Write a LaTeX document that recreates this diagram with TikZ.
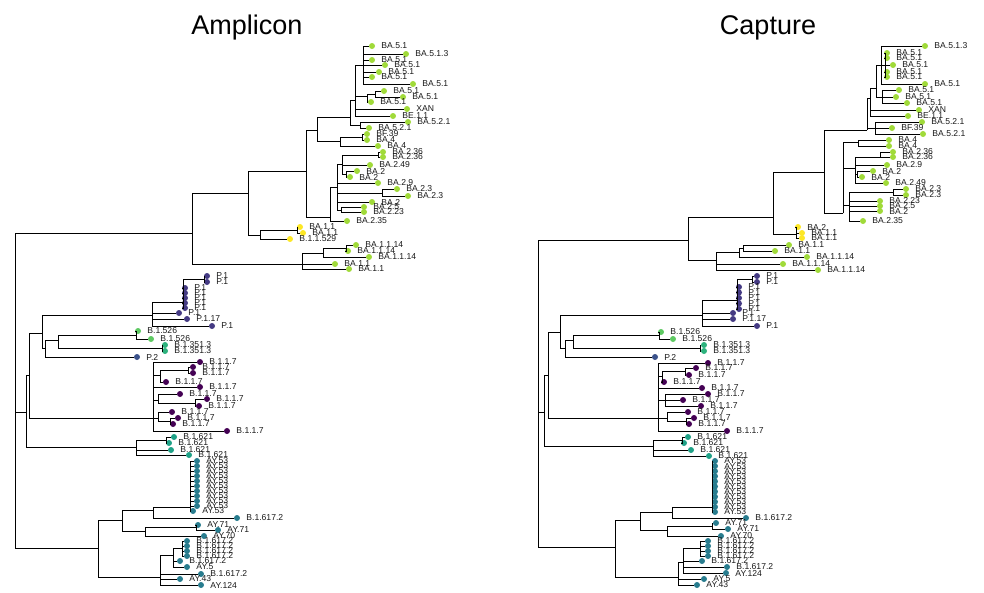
\documentclass[tikz,border=0pt]{standalone}
\usepackage{fontspec}
\setmainfont{Liberation Sans}
\usepackage{tikz}
\usetikzlibrary{positioning}
\definecolor{omicron}{HTML}{A0DA39}
\definecolor{baone}{HTML}{FDE725}
\definecolor{alphac}{HTML}{440154}
\definecolor{gammac}{HTML}{443A83}
\definecolor{zetac}{HTML}{3B528B}
\definecolor{deltac}{HTML}{287C8E}
\definecolor{muc}{HTML}{1FA187}
\definecolor{betac}{HTML}{2DB27D}
\definecolor{iotac}{HTML}{5EC962}
\tikzset{
  branch/.style={line width=0.7pt,black},
  leafdot/.style={circle,inner sep=0pt,minimum size=6pt},
  leaflab/.style={inner sep=0pt,label distance=6pt,font=\fontsize{8.6}{8.6}\selectfont,text=black!90},
  paneltitle/.style={font=\fontsize{27}{27}\selectfont}
}
\newcommand{\leaf}[5]{%
  \node[leafdot,fill=#4,label={[leaflab]right:#5}] (#1) at (#2,{#3}) {};
}
\newcommand{\hang}[2]{%
  \foreach \k in {#2} {\draw[branch] (#1) |- (\k);}
}

\begin{document}
\begin{tikzpicture}[x=1pt,y=-1pt]
  \useasboundingbox (0,0) rectangle (984,592);
  \node[paneltitle] (tamp) at (247,28) {Amplicon};
  \node[paneltitle] (tcap) at (768,28) {Capture};

  % Amplicon
  \coordinate (aR) at (15,390);   \coordinate (aA) at (192,233);
  \coordinate (aB) at (248,193);  \coordinate (aC) at (306,171);
  \coordinate (aE) at (317,130);  \coordinate (aG) at (350,117);
  \coordinate (aG1) at (355,100); \coordinate (aG3) at (363,65);
  \coordinate (aG4) at (367,96);  \coordinate (aG5) at (375,94);
  \coordinate (aG2) at (360,125); \coordinate (aH) at (340,141);
  \coordinate (aH2) at (362,137); \coordinate (aF) at (330,217);
  \coordinate (aFb) at (337,187); \coordinate (aF1) at (342,164);
  \coordinate (aF1a) at (378,155);\coordinate (aF1b) at (346,174);
  \coordinate (aF2) at (382,193); \coordinate (aF3) at (341,210);
  \coordinate (aY) at (260,235);  \coordinate (aY2) at (297,230);
  \coordinate (aL) at (302,264);  \coordinate (aL2) at (323,253);
  \coordinate (aL3) at (346,248);
  \coordinate (aN1) at (26,412);  \coordinate (aN2) at (29,375);
  \coordinate (aN3) at (42,333);  \coordinate (aN4) at (45,348);
  \coordinate (aN5) at (58,340);  \coordinate (aI) at (136,335);
  \coordinate (aBt) at (162,348); \coordinate (aPa) at (152,315);
  \coordinate (aPb) at (183,302); \coordinate (aPc) at (204,279);
  \coordinate (aS) at (153,418);  \coordinate (aS1) at (160,375);
  \coordinate (aS1a) at (188,370);\coordinate (aS2) at (158,400);
  \coordinate (aS2a) at (195,403);\coordinate (aS3) at (158,418);
  \coordinate (aS3a) at (170,421);\coordinate (aM) at (136,447);
  \coordinate (aM1) at (166,440); \coordinate (aD) at (98,548);
  \coordinate (aD1) at (122,520); \coordinate (aAYa) at (153,510);
  \coordinate (aAY) at (190,507); \coordinate (aAYb) at (145,531);
  \coordinate (aAYc) at (196,527);\coordinate (aD2) at (160,577);
  \coordinate (aD3) at (173,555); \coordinate (aD4) at (182,548);

  \leaf{a1}{372}{46}{omicron}{BA.5.1}
  \leaf{a2}{406}{54}{omicron}{BA.5.1.3}
  \leaf{a3}{372}{60}{omicron}{BA.5.1}
  \leaf{a4}{385}{65}{omicron}{BA.5.1}
  \leaf{a5}{379}{72}{omicron}{BA.5.1}
  \leaf{a6}{372}{77}{omicron}{BA.5.1}
  \leaf{a7}{413}{84}{omicron}{BA.5.1}
  \leaf{a8}{384}{91}{omicron}{BA.5.1}
  \leaf{a9}{403}{97}{omicron}{BA.5.1}
  \leaf{a10}{371}{102}{omicron}{BA.5.1}
  \leaf{a11}{407}{109}{omicron}{XAN}
  \leaf{a12}{393}{116}{omicron}{BE.1.1}
  \leaf{a13}{408}{122}{omicron}{BA.5.2.1}
  \leaf{a14}{369}{128}{omicron}{BA.5.2.1}
  \leaf{a15}{367}{134}{omicron}{BF.39}
  \leaf{a16}{367}{140}{omicron}{BA.4}
  \leaf{a17}{378}{146}{omicron}{BA.4}
  \leaf{a18}{383}{152}{omicron}{BA.2.36}
  \leaf{a19}{383}{157}{omicron}{BA.2.36}
  \leaf{a20}{370}{165}{omicron}{BA.2.49}
  \leaf{a21}{357}{171}{omicron}{BA.2}
  \leaf{a22}{350}{177}{omicron}{BA.2}
  \leaf{a23}{378}{183}{omicron}{BA.2.9}
  \leaf{a24}{397}{189}{omicron}{BA.2.3}
  \leaf{a25}{408}{196}{omicron}{BA.2.3}
  \leaf{a26}{372}{202}{omicron}{BA.2}
  \leaf{a27}{364}{207}{omicron}{BA.2.5}
  \leaf{a28}{364}{212}{omicron}{BA.2.23}
  \leaf{a29}{347}{221}{omicron}{BA.2.35}
  \leaf{a30}{300}{227}{baone}{BA.1.1}
  \leaf{a31}{303}{233}{baone}{BA.1.1}
  \leaf{a32}{290}{239}{baone}{B.1.1.529}
  \leaf{a33}{356}{245}{omicron}{BA.1.1.14}
  \leaf{a34}{348}{251}{omicron}{BA.1.1.14}
  \leaf{a35}{369}{257}{omicron}{BA.1.1.14}
  \leaf{a36}{335}{264}{omicron}{BA.1.1}
  \leaf{a37}{349}{269}{omicron}{BA.1.1}

  \leaf{ap1}{207}{276}{gammac}{P.1}
  \leaf{ap2}{207}{282}{gammac}{P.1}
  \foreach \i in {0,...,4} {\leaf{app\i}{185}{288+5*\i}{gammac}{P.1}}
  \leaf{ap3}{179}{313}{gammac}{P.1}
  \leaf{ap4}{187}{319}{gammac}{P.1.17}
  \leaf{ap5}{212}{326}{gammac}{P.1}
  \leaf{ai1}{138}{331}{iotac}{B.1.526}
  \leaf{ai2}{151}{339}{iotac}{B.1.526}
  \leaf{ab1}{165}{345}{betac}{B.1.351.3}
  \leaf{ab2}{165}{351}{betac}{B.1.351.3}
  \leaf{az}{137}{357}{zetac}{P.2}
  \leaf{aal1}{200}{362}{alphac}{B.1.1.7}
  \leaf{aal2}{193}{367}{alphac}{B.1.1.7}
  \leaf{aal3}{193}{373}{alphac}{B.1.1.7}
  \leaf{aal4}{166}{382}{alphac}{B.1.1.7}
  \leaf{aal5}{200}{387}{alphac}{B.1.1.7}
  \leaf{aal6}{180}{394}{alphac}{B.1.1.7}
  \leaf{aal7}{207}{399}{alphac}{B.1.1.7}
  \leaf{aal8}{199}{406}{alphac}{B.1.1.7}
  \leaf{aal9}{172}{412}{alphac}{B.1.1.7}
  \leaf{aal10}{178}{418}{alphac}{B.1.1.7}
  \leaf{aal11}{173}{424}{alphac}{B.1.1.7}
  \leaf{aal12}{227}{431}{alphac}{B.1.1.7}
  \leaf{am1}{174}{437}{muc}{B.1.621}
  \leaf{am2}{169}{443}{muc}{B.1.621}
  \leaf{am3}{171}{450}{muc}{B.1.621}
  \leaf{am4}{189}{455}{muc}{B.1.621}
  \foreach \i in {0,...,9} {\leaf{aay\i}{197}{461+5*\i}{deltac}{AY.53}}
  \leaf{aay10}{193}{511}{deltac}{AY.53}
  \leaf{ad1}{237}{518}{deltac}{B.1.617.2}
  \leaf{ad2}{198}{525}{deltac}{AY.71}
  \leaf{ad3}{218}{530}{deltac}{AY.71}
  \leaf{ad4}{204}{536}{deltac}{AY.70}
  \foreach \i in {0,...,3} {\leaf{adb\i}{187}{541+5*\i}{deltac}{B.1.617.2}}
  \leaf{ad5}{180}{561}{deltac}{B.1.617.2}
  \leaf{ad6}{187}{567}{deltac}{AY.5}
  \leaf{ad7}{201}{574}{deltac}{B.1.617.2}
  \leaf{ad8}{180}{579}{deltac}{AY.43}
  \leaf{ad9}{201}{585}{deltac}{AY.124}

  \hang{aR}{aA,aN1,aD}
  \hang{aA}{aB,aL}
  \hang{aB}{aC,aY}
  \hang{aC}{aE,aF}
  \hang{aE}{aG,aH}
  \hang{aG}{aG1,aG2}
  \hang{aG1}{aG3,aG4,a11,a12}
  \hang{aG3}{a1,a2,a3,a4,a5,a6,a7}
  \hang{aG4}{aG5,a10}
  \hang{aG5}{a8,a9}
  \hang{aG2}{a13,a14}
  \hang{aH}{aH2,a17}
  \hang{aH2}{a15,a16}
  \hang{aF}{aFb,a29}
  \hang{aFb}{aF1,a23,aF2,a26,aF3}
  \hang{aF1}{aF1a,a20,aF1b}
  \hang{aF1a}{a18,a19}
  \hang{aF1b}{a21,a22}
  \hang{aF2}{a24,a25}
  \hang{aF3}{a27,a28}
  \hang{aY}{aY2,a32}
  \hang{aY2}{a30,a31}
  \hang{aL}{aL2,a36,a37}
  \hang{aL2}{aL3,a35}
  \hang{aL3}{a33,a34}
  \hang{aN1}{aN2,aM}
  \hang{aN2}{aN3,aS}
  \hang{aN3}{aPa,aN4}
  \hang{aN4}{aN5,az}
  \hang{aN5}{aI,aBt}
  \hang{aI}{ai1,ai2}
  \hang{aBt}{ab1,ab2}
  \hang{aPa}{aPb,ap3,ap4,ap5}
  \hang{aPb}{aPc,app0,app1,app2,app3,app4}
  \hang{aPc}{ap1,ap2}
  \hang{aS}{aal1,aS1,aal5,aS2,aS3,aal12}
  \hang{aS1}{aS1a,aal4}
  \hang{aS1a}{aal2,aal3}
  \hang{aS2}{aal6,aS2a}
  \hang{aS2a}{aal7,aal8}
  \hang{aS3}{aal9,aS3a}
  \hang{aS3a}{aal10,aal11}
  \hang{aM}{aM1,am3,am4}
  \hang{aM1}{am1,am2}
  \hang{aD}{aD1,aD2}
  \hang{aD1}{aAYa,aAYb}
  \hang{aAYa}{aAY,ad1}
  \hang{aAY}{aay0,aay1,aay2,aay3,aay4,aay5,aay6,aay7,aay8,aay9,aay10}
  \hang{aAYb}{aAYc,ad4}
  \hang{aAYc}{ad2,ad3}
  \hang{aD2}{aD3,ad7,ad8,ad9}
  \hang{aD3}{aD4,ad5,ad6}
  \hang{aD4}{adb0,adb1,adb2,adb3}

  % Capture
  \coordinate (cR) at (538,390);  \coordinate (cO) at (688,240);
  \coordinate (cA) at (773,217);  \coordinate (cC) at (824,172);
  \coordinate (cE) at (867,130);  \coordinate (cG1) at (870,98);
  \coordinate (cG3) at (876,88);  \coordinate (cT) at (881,65);
  \coordinate (cT2) at (885,65);  \coordinate (cG4) at (882,97);
  \coordinate (cG2) at (875,128); \coordinate (cF) at (843,213);
  \coordinate (cFa) at (858,142); \coordinate (cFb) at (855,168);
  \coordinate (cFb1) at (880,157);\coordinate (cFb2) at (857,174);
  \coordinate (cFc) at (849,205); \coordinate (cFc1) at (893,192);
  \coordinate (cY) at (796,234);  \coordinate (cL) at (716,260);
  \coordinate (cL2) at (739,252); \coordinate (cL3) at (743,248);
  \coordinate (cN1) at (544,412); \coordinate (cN2) at (548,375);
  \coordinate (cN3) at (560,332); \coordinate (cN4) at (565,348);
  \coordinate (cN5) at (573,340); \coordinate (cI) at (659,335);
  \coordinate (cBt) at (700,348); \coordinate (cPa) at (702,315);
  \coordinate (cPb) at (737,300); \coordinate (cPc) at (752,279);
  \coordinate (cS) at (658,418);  \coordinate (cS1) at (662,376);
  \coordinate (cS1a) at (685,371);\coordinate (cS2) at (665,400);
  \coordinate (cS3) at (667,418); \coordinate (cS3a) at (686,421);
  \coordinate (cM) at (653,446);  \coordinate (cM1) at (682,440);
  \coordinate (cD) at (615,547);  \coordinate (cD1) at (640,520);
  \coordinate (cAYa) at (672,512);\coordinate (cAY) at (712,507);
  \coordinate (cAYb) at (667,530);\coordinate (cAYc) at (712,526);
  \coordinate (cD2) at (678,577); \coordinate (cD3) at (683,562);
  \coordinate (cD4) at (700,548);

  \leaf{c1}{925}{46}{omicron}{BA.5.1.3}
  \leaf{c2}{887}{53}{omicron}{BA.5.1}
  \leaf{c3}{887}{58}{omicron}{BA.5.1}
  \leaf{c4}{893}{65}{omicron}{BA.5.1}
  \leaf{c5}{887}{72}{omicron}{BA.5.1}
  \leaf{c6}{887}{77}{omicron}{BA.5.1}
  \leaf{c7}{925}{84}{omicron}{BA.5.1}
  \leaf{c8}{899}{90}{omicron}{BA.5.1}
  \leaf{c9}{896}{97}{omicron}{BA.5.1}
  \leaf{c10}{907}{103}{omicron}{BA.5.1}
  \leaf{c11}{919}{110}{omicron}{XAN}
  \leaf{c12}{908}{116}{omicron}{BE.1.1}
  \leaf{c13}{922}{122}{omicron}{BA.5.2.1}
  \leaf{c14}{892}{128}{omicron}{BF.39}
  \leaf{c15}{923}{134}{omicron}{BA.5.2.1}
  \leaf{c16}{889}{140}{omicron}{BA.4}
  \leaf{c17}{889}{146}{omicron}{BA.4}
  \leaf{c18}{893}{152}{omicron}{BA.2.36}
  \leaf{c19}{893}{157}{omicron}{BA.2.36}
  \leaf{c20}{887}{165}{omicron}{BA.2.9}
  \leaf{c21}{873}{171}{omicron}{BA.2}
  \leaf{c22}{862}{177}{omicron}{BA.2}
  \leaf{c23}{886}{183}{omicron}{BA.2.49}
  \leaf{c24}{906}{189}{omicron}{BA.2.3}
  \leaf{c25}{906}{195}{omicron}{BA.2.3}
  \leaf{c26}{880}{201}{omicron}{BA.2.23}
  \leaf{c27}{880}{206}{omicron}{BA.2.5}
  \leaf{c28}{880}{211}{omicron}{BA.2}
  \leaf{c29}{863}{221}{omicron}{BA.2.35}
  \leaf{c30}{798}{227}{baone}{BA.2}
  \leaf{c31}{802}{233}{baone}{BA.1.1}
  \leaf{c32}{802}{238}{baone}{BA.1.1}
  \leaf{c33}{789}{245}{omicron}{BA.1.1}
  \leaf{c34}{775}{251}{omicron}{BA.1.1}
  \leaf{c35}{807}{257}{omicron}{BA.1.1.14}
  \leaf{c36}{783}{264}{omicron}{BA.1.1.14}
  \leaf{c37}{818}{270}{omicron}{BA.1.1.14}

  \leaf{cp1}{757}{276}{gammac}{P.1}
  \leaf{cp2}{757}{282}{gammac}{P.1}
  \foreach \i in {0,...,4} {\leaf{cpp\i}{739}{287+5.5*\i}{gammac}{P.1}}
  \leaf{cp3}{733}{313}{gammac}{P.1}
  \leaf{cp4}{733}{319}{gammac}{P.1.17}
  \leaf{cp5}{757}{326}{gammac}{P.1}
  \leaf{ci1}{661}{332}{iotac}{B.1.526}
  \leaf{ci2}{673}{339}{iotac}{B.1.526}
  \leaf{cb1}{704}{345}{betac}{B.1.351.3}
  \leaf{cb2}{704}{351}{betac}{B.1.351.3}
  \leaf{cz}{655}{357}{zetac}{P.2}
  \leaf{cal1}{708}{363}{alphac}{B.1.1.7}
  \leaf{cal2}{696}{368}{alphac}{B.1.1.7}
  \leaf{cal3}{689}{375}{alphac}{B.1.1.7}
  \leaf{cal4}{664}{382}{alphac}{B.1.1.7}
  \leaf{cal5}{702}{388}{alphac}{B.1.1.7}
  \leaf{cal6}{708}{394}{alphac}{B.1.1.7}
  \leaf{cal7}{683}{400}{alphac}{B.1.1.7}
  \leaf{cal8}{701}{406}{alphac}{B.1.1.7}
  \leaf{cal9}{688}{412}{alphac}{B.1.1.7}
  \leaf{cal10}{694}{418}{alphac}{B.1.1.7}
  \leaf{cal11}{689}{424}{alphac}{B.1.1.7}
  \leaf{cal12}{727}{431}{alphac}{B.1.1.7}
  \leaf{cm1}{688}{437}{muc}{B.1.621}
  \leaf{cm2}{684}{443}{muc}{B.1.621}
  \leaf{cm3}{691}{450}{muc}{B.1.621}
  \leaf{cm4}{709}{456}{muc}{B.1.621}
  \foreach \i in {0,...,10} {\leaf{cay\i}{715}{461+5.1*\i}{deltac}{AY.53}}
  \leaf{cd1}{746}{518}{deltac}{B.1.617.2}
  \leaf{cd2}{716}{523}{deltac}{AY.71}
  \leaf{cd3}{728}{529}{deltac}{AY.71}
  \leaf{cd4}{721}{536}{deltac}{AY.70}
  \foreach \i in {0,...,3} {\leaf{cdb\i}{708}{541+5*\i}{deltac}{B.1.617.2}}
  \leaf{cd5}{702}{561}{deltac}{B.1.617.2}
  \leaf{cd6}{727}{567}{deltac}{B.1.617.2}
  \leaf{cd7}{726}{573}{deltac}{AY.124}
  \leaf{cd8}{704}{579}{deltac}{AY.5}
  \leaf{cd9}{697}{585}{deltac}{AY.43}

  \hang{cR}{cO,cN1,cD}
  \hang{cO}{cA,cL}
  \hang{cA}{cC,cY}
  \hang{cC}{cE,cF}
  \hang{cE}{cG1,cG2}
  \hang{cG1}{cG3,c11,c12}
  \hang{cG3}{cT,cG4}
  \hang{cT}{c1,cT2,c7}
  \hang{cT2}{c2,c3,c4,c5,c6}
  \hang{cG4}{c8,c9,c10}
  \hang{cG2}{c13,c14,c15}
  \hang{cF}{cFa,cFb,cFc}
  \hang{cFa}{c16,c17}
  \hang{cFb}{cFb1,c20,cFb2,c23}
  \hang{cFb1}{c18,c19}
  \hang{cFb2}{c21,c22}
  \hang{cFc}{cFc1,c26,c27,c28,c29}
  \hang{cFc1}{c24,c25}
  \hang{cY}{c30,c31,c32}
  \hang{cL}{cL2,c36,c37}
  \hang{cL2}{cL3,c35}
  \hang{cL3}{c33,c34}
  \hang{cN1}{cN2,cM}
  \hang{cN2}{cN3,cS}
  \hang{cN3}{cPa,cN4}
  \hang{cN4}{cN5,cz}
  \hang{cN5}{cI,cBt}
  \hang{cI}{ci1,ci2}
  \hang{cBt}{cb1,cb2}
  \hang{cPa}{cPb,cp3,cp4,cp5}
  \hang{cPb}{cPc,cpp0,cpp1,cpp2,cpp3,cpp4}
  \hang{cPc}{cp1,cp2}
  \hang{cS}{cal1,cS1,cal5,cS2,cS3,cal12}
  \hang{cS1}{cS1a,cal4}
  \hang{cS1a}{cal2,cal3}
  \hang{cS2}{cal6,cal7,cal8}
  \hang{cS3}{cal9,cS3a}
  \hang{cS3a}{cal10,cal11}
  \hang{cM}{cM1,cm3,cm4}
  \hang{cM1}{cm1,cm2}
  \hang{cD}{cD1,cD2}
  \hang{cD1}{cAYa,cAYb}
  \hang{cAYa}{cAY,cd1}
  \hang{cAY}{cay0,cay1,cay2,cay3,cay4,cay5,cay6,cay7,cay8,cay9,cay10}
  \hang{cAYb}{cAYc,cd4}
  \hang{cAYc}{cd2,cd3}
  \hang{cD2}{cD3,cd8,cd9}
  \hang{cD3}{cD4,cd5,cd6,cd7}
  \hang{cD4}{cdb0,cdb1,cdb2,cdb3}
\end{tikzpicture}
\end{document}
